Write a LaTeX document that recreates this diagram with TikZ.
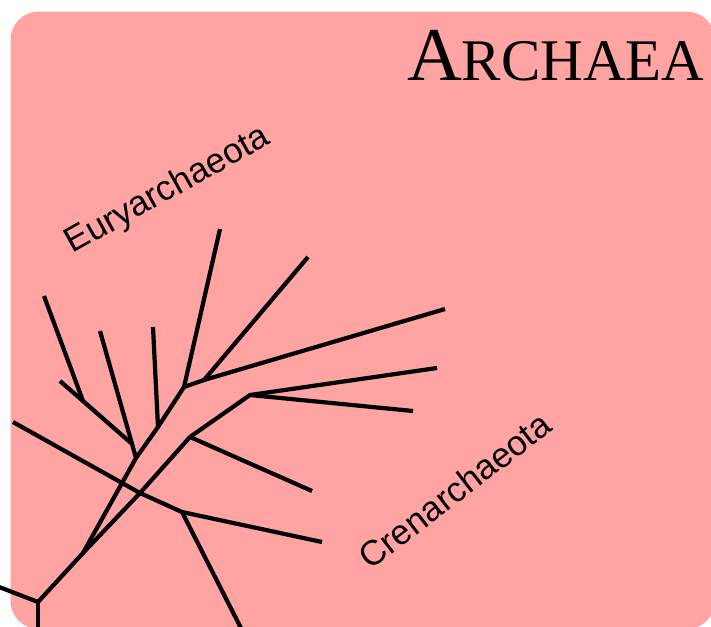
\documentclass[tikz,border=0pt]{standalone}
\usepackage{fontspec}
\setmainfont{Liberation Serif}
\setsansfont{Liberation Sans}
\definecolor{archaeapink}{HTML}{FFA3A3}

\begin{document}
\begin{tikzpicture}[x=1pt, y=-1pt, line width=4.2pt, line join=round,
  clade/.style={anchor=base west, inner sep=0pt, font=\sffamily\fontsize{35}{40}\selectfont}]

  \clip (0,0) rectangle (711,626);

  % ════ 背景圆角框 ════
  \fill[archaeapink, rounded corners=28pt] (10.5,11.7) rectangle (715,629);

  % ════ 标题 ════
  \node[anchor=base west, inner sep=0pt] (title) at (405,80)
    {\fontsize{76}{80}\selectfont A\fontsize{59}{60}\selectfont RCHAEA};

  % ════ 树的分叉点 ════
  \coordinate (root) at (38,602);
  \coordinate (fork) at (83,553);
  \coordinate (e1) at (136,458);
  \coordinate (e1b) at (131,443);
  \coordinate (eb) at (83,401);
  \coordinate (e2) at (158,427);
  \coordinate (e3) at (184,387);
  \coordinate (e4) at (204,380);
  \coordinate (c1) at (140,493);
  \coordinate (c2) at (190,437);
  \coordinate (c3) at (250,395);
  \coordinate (cj) at (182,512);

  % ════ 叶子 ════
  \coordinate (w) at (-6,585);
  \coordinate (s) at (38,632);
  \coordinate (la) at (44,296);
  \coordinate (lb) at (60,381);
  \coordinate (lc) at (100,331);
  \coordinate (ld) at (153,327);
  \coordinate (le) at (220,229);
  \coordinate (lf) at (308,257);
  \coordinate (lg) at (445,309);
  \coordinate (ma) at (13,422);
  \coordinate (mb) at (312,491);
  \coordinate (mc) at (437,368);
  \coordinate (md) at (413,411);
  \coordinate (me) at (322,542);
  \coordinate (mf) at (244,634);

  % ════ 枝条 ════
  \draw (w) -- (root) -- (fork) -- (e1) -- (e2) -- (e3) -- (e4) -- (lg);
  \draw (root) -- (s);
  \draw (fork) -- (c1) -- (c2) -- (c3) -- (mc);
  \draw (e1) -- (lc);
  \draw (e1b) -- (eb) -- (la);
  \draw (eb) -- (lb);
  \draw (e2) -- (ld);
  \draw (e3) -- (le);
  \draw (e4) -- (lf);
  \draw (ma) -- (c1) -- (cj) -- (me);
  \draw (cj) -- (mf);
  \draw (c2) -- (mb);
  \draw (c3) -- (md);

  % ════ 类群标签 ════
  \node[clade, rotate=29.2] (eury) at (71,255) {Euryarchaeota};
  \node[clade, rotate=37.6] (cren) at (369,572) {Crenarchaeota};

  \path[use as bounding box] (0,0) rectangle (711,626);
\end{tikzpicture}
\end{document}
